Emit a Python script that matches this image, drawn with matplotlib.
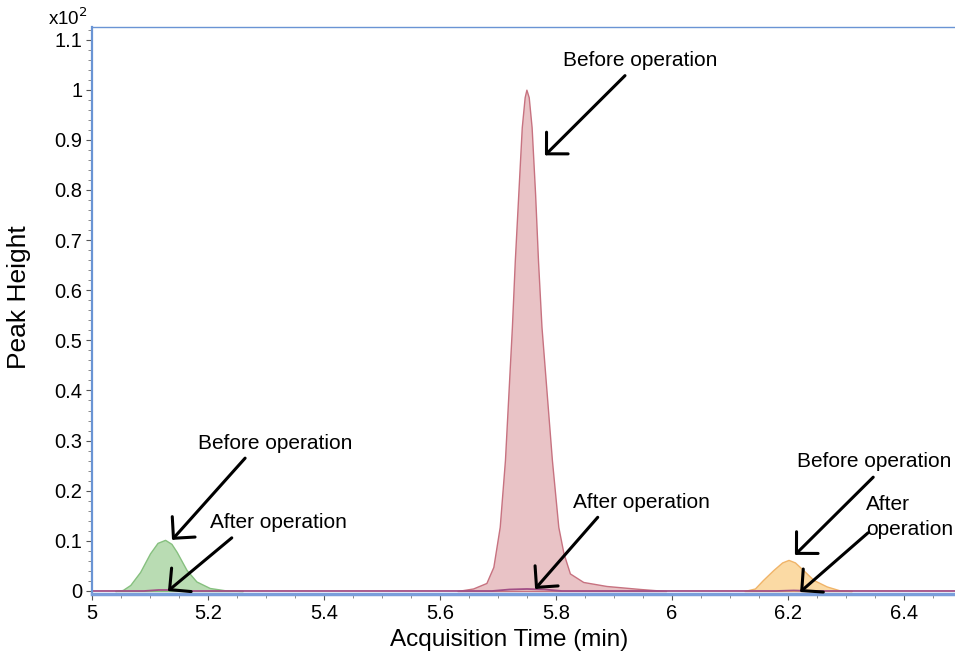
import numpy as np
from matplotlib import pyplot as plt

plt.rcParams['font.family'] = ['Liberation Sans', 'DejaVu Sans']

# peak heights in units of x10^2
green_before_t = [5.040, 5.053, 5.066, 5.083, 5.100, 5.113, 5.126, 5.137, 5.146, 5.163, 5.180, 5.203, 5.232, 5.260]
green_before_h = [0.000, 0.002, 0.012, 0.038, 0.075, 0.096, 0.102, 0.094, 0.078, 0.042, 0.019, 0.006, 0.001, 0.000]

red_before_t = [5.630, 5.657, 5.680, 5.692, 5.703, 5.712, 5.718, 5.724, 5.729, 5.735, 5.741, 5.746, 5.749,
                5.753, 5.758, 5.764, 5.769, 5.775, 5.784, 5.793, 5.804, 5.813, 5.824, 5.847, 5.887, 5.945, 5.990]
red_before_h = [0.000, 0.005, 0.016, 0.048, 0.128, 0.261, 0.394, 0.527, 0.659, 0.792, 0.925, 0.985, 1.000,
                0.985, 0.925, 0.792, 0.659, 0.527, 0.394, 0.261, 0.128, 0.075, 0.035, 0.018, 0.010, 0.004, 0.000]

orange_before_t = [6.125, 6.143, 6.157, 6.175, 6.190, 6.201, 6.212, 6.226, 6.244, 6.267, 6.290, 6.310]
orange_before_h = [0.000, 0.005, 0.022, 0.042, 0.057, 0.062, 0.057, 0.042, 0.022, 0.009, 0.001, 0.000]

after_t = [5.000, 5.090, 5.115, 5.130, 5.160, 5.690, 5.720, 5.750, 5.780, 5.810, 6.180, 6.210, 6.240, 6.490]
after_h = [0.000, 0.000, 0.002, 0.002, 0.000, 0.000, 0.003, 0.004, 0.003, 0.000, 0.000, 0.001, 0.000, 0.000]

labels_text = ['Before operation', 'Before operation', 'After operation',
               'After operation', 'Before operation', 'After\noperation']
labels_xy = [(5.945, 1.058), (5.316, 0.295), (5.321, 0.137),
             (5.948, 0.177), (6.348, 0.259), (6.334, 0.147)]
labels_ha = ['center', 'center', 'center', 'center', 'center', 'left']
arrow_start = [(5.919, 1.028), (5.264, 0.265), (5.241, 0.106),
               (5.872, 0.147), (6.347, 0.227), (6.338, 0.116)]
arrow_tip = [(5.781, 0.869), (5.138, 0.102), (5.131, 0.000),
             (5.764, 0.004), (6.212, 0.072), (6.221, -0.002)]

fig = plt.figure(figsize=(9.55, 6.57), dpi=100)
ax = fig.add_axes([92/955, 63/657, 1 - 92/955, 567/657])

ax.fill_between(green_before_t, green_before_h, 0, facecolor='#b9dcb3', edgecolor='#86c07f', lw=1.0)
ax.fill_between(red_before_t, red_before_h, 0, facecolor='#e9c3c6', edgecolor='#c77280', lw=1.0)
ax.fill_between(orange_before_t, orange_before_h, 0, facecolor='#fbdaa4', edgecolor='#f0b469', lw=1.0)
ax.plot(after_t, after_h, color='#a24f86', lw=1.3)

for txt, xy, ha in zip(labels_text, labels_xy, labels_ha):
    ax.text(xy[0], xy[1], txt, ha=ha, va='center', fontsize=15, linespacing=1.4)
for s, t in zip(arrow_start, arrow_tip):
    ax.annotate('', xy=t, xytext=s,
                arrowprops=dict(arrowstyle='->,head_length=0.55,head_width=0.55',
                                lw=2.2, color='black', shrinkA=0, shrinkB=0,
                                mutation_scale=20))

ax.set_xlim(5, 6.488)
ax.set_ylim(-0.006, 1.125)
ax.set_xticks(np.arange(5, 6.5, 0.2))
ax.set_xticklabels(['5', '5.2', '5.4', '5.6', '5.8', '6', '6.2', '6.4'])
ax.set_xticks(np.arange(5, 6.49, 0.05), minor=True)
ax.set_yticks(np.arange(0, 1.15, 0.1))
ax.set_yticklabels(['0', '0.1', '0.2', '0.3', '0.4', '0.5', '0.6', '0.7', '0.8', '0.9', '1', '1.1'])
ax.set_yticks(np.arange(0, 1.125, 0.02), minor=True)
ax.tick_params(axis='both', which='major', labelsize=14.5, length=4, color='#555555', pad=3)
ax.tick_params(axis='both', which='minor', length=3, color='#777777')

ax.spines['right'].set_visible(False)
ax.spines['left'].set_color('#6a94d4')
ax.spines['left'].set_linewidth(1.6)
ax.spines['top'].set_color('#6a94d4')
ax.spines['top'].set_linewidth(1.0)
ax.spines['bottom'].set_color('#7a9edb')
ax.spines['bottom'].set_linewidth(2.5)

fig.text(68/955, 1 - 18/657, 'x10$^2$', ha='center', va='center', fontsize=13.5)
fig.text(19/955, 1 - 297/657, 'Peak Height', rotation=90, ha='center', va='center', fontsize=19)
fig.text(509/955, 1 - 640/657, 'Acquisition Time (min)', ha='center', va='center', fontsize=17.5)

plt.savefig('out.png', dpi=100)
